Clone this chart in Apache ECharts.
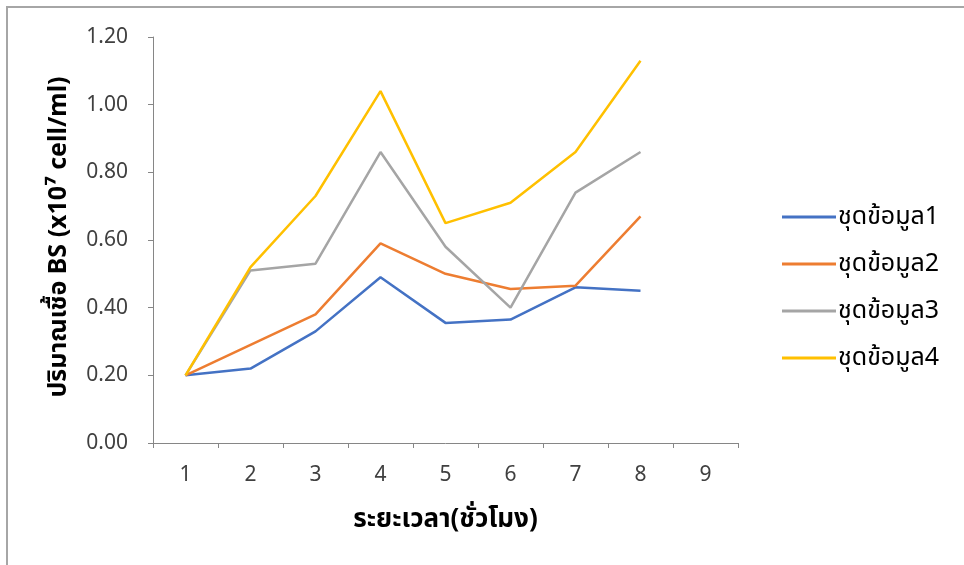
<!DOCTYPE html>
<html>
<head>
<meta charset="utf-8">
<script src="https://cdn.jsdelivr.net/npm/echarts@6/dist/echarts.min.js"></script>
<style>
html,body{margin:0;padding:0;background:#fff;}
#c{width:964px;height:565px;position:relative;}
#frame{position:absolute;left:6px;top:6px;width:958px;height:559px;border-top:2px solid #a6a6a6;border-left:2px solid #a6a6a6;pointer-events:none;box-sizing:border-box;}
</style>
</head>
<body>
<div id="c"></div>
<div id="frame"></div>
<script>
const categories = ['1','2','3','4','5','6','7','8','9'];
const seriesNames = ['ชุดข้อมูล1','ชุดข้อมูล2','ชุดข้อมูล3','ชุดข้อมูล4'];
const set1 = [0.20, 0.22, 0.33, 0.49, 0.355, 0.365, 0.46, 0.45];
const set2 = [0.20, 0.29, 0.38, 0.59, 0.50, 0.455, 0.465, 0.67];
const set3 = [0.20, 0.51, 0.53, 0.86, 0.58, 0.40, 0.74, 0.86];
const set4 = [0.20, 0.52, 0.73, 1.04, 0.65, 0.71, 0.86, 1.13];
const colors = ['#4472C4','#ED7D31','#A5A5A5','#FFC000'];
const yTitle = 'ปริมาณเชื้อ BS (x10⁷ cell/ml)';
const xTitle = 'ระยะเวลา(ชั่วโมง)';

const FONT = "'Noto Sans','Noto Sans Thai','Liberation Sans',sans-serif";
const chart = echarts.init(document.getElementById('c'));
const data = [set1, set2, set3, set4];
chart.setOption({
  animation: false,
  backgroundColor: '#ffffff',
  textStyle: {fontFamily: FONT},
  grid: {left: 153, top: 37, width: 585, height: 406, containLabel: false},
  legend: {
    orient: 'vertical', left: 777, top: 199, itemGap: 21,
    itemWidth: 54, itemHeight: 3,
    icon: 'rect',
    data: seriesNames,
    textStyle: {fontSize: 25, lineHeight: 26, color: '#000', fontFamily: FONT, padding: [0,0,0,-3]}
  },
  xAxis: {
    type: 'category', data: categories, boundaryGap: true,
    axisLine: {lineStyle: {color: '#868686', width: 1}},
    axisTick: {show: true, alignWithLabel: false, length: 5, lineStyle: {color: '#868686'}},
    axisLabel: {fontSize: 21, color: '#404040', margin: 22, fontFamily: FONT},
    name: xTitle, nameLocation: 'middle', nameGap: 64,
    nameTextStyle: {fontSize: 26, fontWeight: 'bold', color: '#000', fontFamily: FONT}
  },
  yAxis: {
    type: 'value', min: 0, max: 1.2, interval: 0.2,
    splitLine: {show: false},
    axisLine: {show: true, lineStyle: {color: '#868686', width: 1}},
    axisTick: {show: true, length: 5, lineStyle: {color: '#868686'}},
    axisLabel: {fontSize: 21, color: '#404040', margin: 25, fontFamily: FONT,
      formatter: v => v.toFixed(2)},
    name: yTitle, nameLocation: 'middle', nameGap: 82,
    nameTextStyle: {fontSize: 25, fontWeight: 'bold', color: '#000', fontFamily: FONT, padding: [0,0,0,6]}
  },
  series: data.map((d, i) => ({
    name: seriesNames[i], type: 'line', data: d,
    symbol: 'none', lineStyle: {width: 2.5, color: colors[i]},
    itemStyle: {color: colors[i]}
  }))
});
</script>
</body>
</html>
